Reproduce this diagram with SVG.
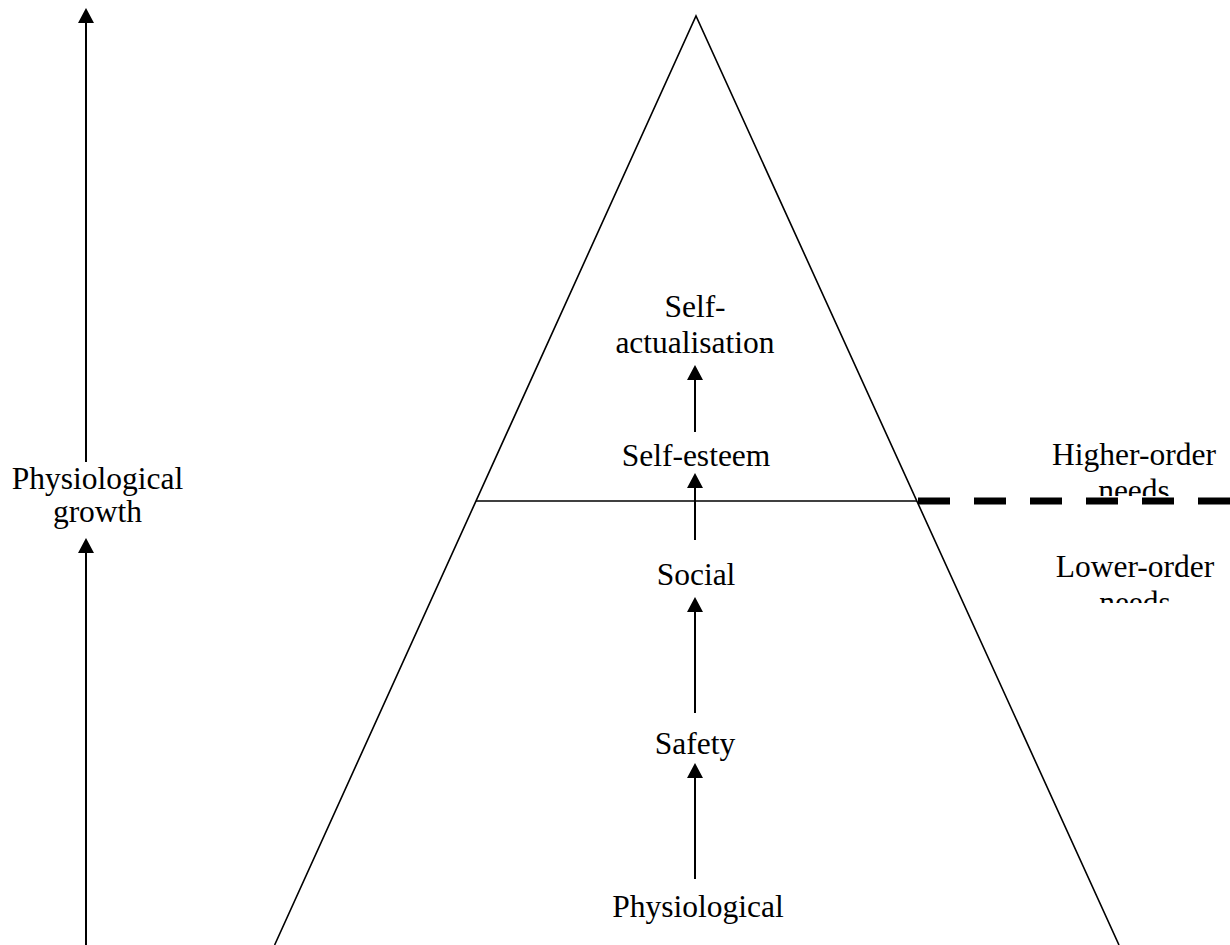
<svg xmlns="http://www.w3.org/2000/svg" width="1230" height="945" viewBox="0 0 1230 945">
  <style>
    text { font-family: "Liberation Serif", "Times New Roman", serif; font-size: 31.5px; fill: #000; text-anchor: middle; }
    .edge { stroke: #000; stroke-width: 2; fill: none; marker-end: url(#head); }
    .shape { stroke: #000; stroke-width: 1.6; fill: none; }
  </style>
  <defs>
    <marker id="head" markerUnits="userSpaceOnUse" markerWidth="16" markerHeight="16" refX="0" refY="8" orient="auto" overflow="visible">
      <path d="M0,0 L15,8 L0,16 Z" fill="#000"/>
    </marker>
    <clipPath id="clipHigh"><rect x="1000" y="420" width="230" height="76"/></clipPath>
    <clipPath id="clipLow"><rect x="1000" y="540" width="230" height="63"/></clipPath>
  </defs>
  <rect width="1230" height="945" fill="#fff"/>

  <g id="pyramid">
    <polyline class="shape" points="274.6,945 696,16 1119,945"/>
    <line class="shape" x1="476" y1="501" x2="917" y2="501"/>
  </g>
  <g id="divider">
    <line x1="918" y1="501" x2="1230" y2="501" stroke="#000" stroke-width="7" stroke-dasharray="32 24"/>
  </g>

  <g id="connectors">
    <line class="edge" x1="86" y1="462" x2="86" y2="23"/>
    <line class="edge" x1="86" y1="945" x2="86" y2="553"/>
    <line class="edge" x1="695" y1="879" x2="695" y2="778"/>
    <line class="edge" x1="695" y1="713" x2="695" y2="612"/>
    <line class="edge" x1="695" y1="540" x2="695" y2="488"/>
    <line class="edge" x1="695" y1="432" x2="695" y2="380"/>
  </g>

  <g id="node-growth"><text x="97.5" y="489">Physiological</text><text x="97.5" y="522">growth</text></g>
  <g id="node-selfact"><text x="695" y="317">Self-</text><text x="695" y="353">actualisation</text></g>
  <g id="node-esteem"><text x="696" y="466">Self-esteem</text></g>
  <g id="node-social"><text x="696" y="585">Social</text></g>
  <g id="node-safety"><text x="695" y="754">Safety</text></g>
  <g id="node-physio"><text x="698" y="917">Physiological</text></g>
  <g id="node-higher" clip-path="url(#clipHigh)"><text x="1134" y="465">Higher-order</text><text x="1134" y="501">needs</text></g>
  <g id="node-lower" clip-path="url(#clipLow)"><text x="1135" y="577">Lower-order</text><text x="1135" y="613">needs</text></g>
</svg>
